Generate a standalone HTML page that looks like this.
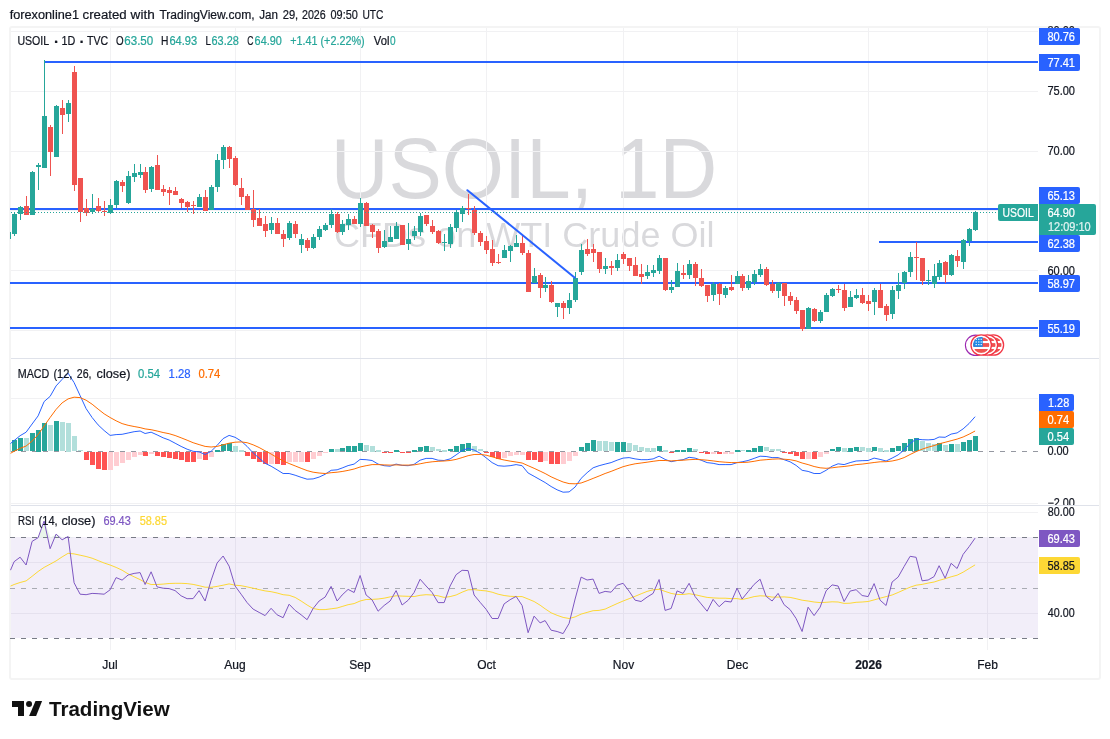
<!DOCTYPE html>
<html lang="en"><head><meta charset="utf-8"><title>USOIL 1D chart</title>
<style>html,body{margin:0;padding:0;background:#fff;}svg{display:block;will-change:transform;}text{font-family:"Liberation Sans",sans-serif;}</style>
</head><body>
<svg width="1110" height="739" viewBox="0 0 1110 739">
<rect x="0" y="0" width="1110" height="739" fill="#ffffff"/>
<text x="9.7" y="19" font-size="12.5" fill="#131722" textLength="69.3" lengthAdjust="spacingAndGlyphs" stroke="#131722" stroke-width="0.22">forexonline1</text>
<text x="82.6" y="19" font-size="12.5" fill="#131722" textLength="44.1" lengthAdjust="spacingAndGlyphs" stroke="#131722" stroke-width="0.22">created</text>
<text x="130.6" y="19" font-size="12.5" fill="#131722" textLength="24.1" lengthAdjust="spacingAndGlyphs" stroke="#131722" stroke-width="0.22">with</text>
<text x="159.4" y="19" font-size="12.5" fill="#131722" textLength="95.2" lengthAdjust="spacingAndGlyphs" stroke="#131722" stroke-width="0.22">TradingView.com,</text>
<text x="259.3" y="19" font-size="12.5" fill="#131722" textLength="18.7" lengthAdjust="spacingAndGlyphs" stroke="#131722" stroke-width="0.22">Jan</text>
<text x="282.7" y="19" font-size="12.5" fill="#131722" textLength="15.5" lengthAdjust="spacingAndGlyphs" stroke="#131722" stroke-width="0.22">29,</text>
<text x="302.0" y="19" font-size="12.5" fill="#131722" textLength="23.7" lengthAdjust="spacingAndGlyphs" stroke="#131722" stroke-width="0.22">2026</text>
<text x="330.5" y="19" font-size="12.5" fill="#131722" textLength="27.3" lengthAdjust="spacingAndGlyphs" stroke="#131722" stroke-width="0.22">09:50</text>
<text x="362.4" y="19" font-size="12.5" fill="#131722" textLength="21.0" lengthAdjust="spacingAndGlyphs" stroke="#131722" stroke-width="0.22">UTC</text>
<defs><clipPath id="mainclip"><rect x="10" y="28" width="1028" height="330"/></clipPath>
<clipPath id="macdclip"><rect x="10" y="359" width="1028" height="146"/></clipPath>
<clipPath id="rsiclip"><rect x="10" y="506" width="1028" height="144"/></clipPath>
<clipPath id="flagclip"><circle cx="0" cy="0" r="8.1"/></clipPath>
<clipPath id="sc1"><rect x="1038" y="359" width="62" height="146"/></clipPath></defs>
<g fill="#50535e" fill-opacity="0.22">
<text x="330.85" y="197.6" font-size="85" fill="#50535e" textLength="386.4" lengthAdjust="spacingAndGlyphs">USOIL, 1D</text>
<text x="334.0" y="246.7" font-size="34.5" fill="#50535e" textLength="380.6" lengthAdjust="spacingAndGlyphs">CFDs on WTI Crude Oil</text>
</g>
<g fill="#f1f1f3" shape-rendering="crispEdges">
<rect x="110" y="28" width="1" height="622"/>
<rect x="235" y="28" width="1" height="622"/>
<rect x="360" y="28" width="1" height="622"/>
<rect x="486" y="28" width="1" height="622"/>
<rect x="623" y="28" width="1" height="622"/>
<rect x="737" y="28" width="1" height="622"/>
<rect x="868" y="28" width="1" height="622"/>
<rect x="987" y="28" width="1" height="622"/>
<rect x="11" y="31" width="1027" height="1"/>
<rect x="11" y="91" width="1027" height="1"/>
<rect x="11" y="151" width="1027" height="1"/>
<rect x="11" y="210" width="1027" height="1"/>
<rect x="11" y="270" width="1027" height="1"/>
<rect x="11" y="330" width="1027" height="1"/>
<rect x="11" y="398" width="1027" height="1"/>
<rect x="11" y="503" width="1027" height="1"/>
<rect x="11" y="512" width="1027" height="1"/>
<rect x="11" y="562" width="1027" height="1"/>
<rect x="11" y="613" width="1027" height="1"/>
</g>
<rect x="11" y="537" width="1027" height="101" fill="#7e57c2" fill-opacity="0.1" shape-rendering="crispEdges"/>
<g fill="#dfe2ea" shape-rendering="crispEdges"><rect x="11" y="358" width="1088" height="1"/><rect x="11" y="505" width="1088" height="1"/></g>
<rect x="10" y="27" width="1090" height="652" rx="2" fill="none" stroke="#f4f4f4" stroke-width="2"/>
<g clip-path="url(#mainclip)">
<g fill="#2962ff" shape-rendering="crispEdges">
<rect x="44" y="61" width="994" height="2"/>
<rect x="10" y="208" width="1028" height="2"/>
<rect x="879" y="241" width="159" height="2"/>
<rect x="10" y="282" width="1028" height="2"/>
<rect x="10" y="327" width="1028" height="2"/>
</g>
<g fill="#26a69a" shape-rendering="crispEdges"><rect x="10" y="232" width="1" height="7"/><rect x="14" y="213" width="1" height="23"/><rect x="12" y="214" width="5" height="20"/><rect x="20" y="206" width="1" height="14"/><rect x="18" y="207" width="5" height="7"/><rect x="32" y="171" width="1" height="44"/><rect x="30" y="172" width="5" height="43"/><rect x="38" y="163" width="1" height="27"/><rect x="36" y="165" width="5" height="2"/><rect x="44" y="60" width="1" height="108"/><rect x="42" y="116" width="5" height="52"/><rect x="56" y="105" width="1" height="52"/><rect x="54" y="106" width="5" height="51"/><rect x="68" y="100" width="1" height="22"/><rect x="66" y="103" width="5" height="11"/><rect x="92" y="194" width="1" height="20"/><rect x="90" y="209" width="5" height="3"/><rect x="110" y="199" width="1" height="15"/><rect x="108" y="205" width="5" height="8"/><rect x="116" y="180" width="1" height="28"/><rect x="114" y="181" width="5" height="24"/><rect x="128" y="171" width="1" height="33"/><rect x="126" y="176" width="5" height="27"/><rect x="134" y="164" width="1" height="18"/><rect x="132" y="173" width="5" height="4"/><rect x="140" y="164" width="1" height="14"/><rect x="138" y="172" width="5" height="3"/><rect x="151" y="166" width="1" height="26"/><rect x="149" y="167" width="5" height="22"/><rect x="199" y="194" width="1" height="13"/><rect x="197" y="197" width="5" height="10"/><rect x="211" y="185" width="1" height="25"/><rect x="209" y="187" width="5" height="23"/><rect x="217" y="154" width="1" height="38"/><rect x="215" y="160" width="5" height="27"/><rect x="223" y="145" width="1" height="24"/><rect x="221" y="147" width="5" height="13"/><rect x="271" y="217" width="1" height="17"/><rect x="269" y="223" width="5" height="7"/><rect x="289" y="221" width="1" height="19"/><rect x="287" y="223" width="5" height="15"/><rect x="301" y="234" width="1" height="19"/><rect x="299" y="239" width="5" height="6"/><rect x="313" y="234" width="1" height="15"/><rect x="311" y="237" width="5" height="11"/><rect x="319" y="226" width="1" height="14"/><rect x="317" y="229" width="5" height="8"/><rect x="325" y="223" width="1" height="8"/><rect x="323" y="225" width="5" height="5"/><rect x="331" y="209" width="1" height="19"/><rect x="329" y="214" width="5" height="11"/><rect x="342" y="220" width="1" height="15"/><rect x="340" y="224" width="5" height="8"/><rect x="348" y="214" width="1" height="16"/><rect x="346" y="219" width="5" height="6"/><rect x="360" y="198" width="1" height="29"/><rect x="358" y="203" width="5" height="21"/><rect x="384" y="230" width="1" height="18"/><rect x="382" y="241" width="5" height="6"/><rect x="390" y="226" width="1" height="16"/><rect x="388" y="237" width="5" height="5"/><rect x="396" y="222" width="1" height="17"/><rect x="394" y="226" width="5" height="13"/><rect x="408" y="223" width="1" height="27"/><rect x="406" y="239" width="5" height="5"/><rect x="414" y="226" width="1" height="14"/><rect x="412" y="231" width="5" height="5"/><rect x="420" y="213" width="1" height="23"/><rect x="418" y="216" width="5" height="16"/><rect x="444" y="234" width="1" height="17"/><rect x="442" y="242" width="5" height="1"/><rect x="450" y="224" width="1" height="24"/><rect x="448" y="227" width="5" height="17"/><rect x="456" y="210" width="1" height="22"/><rect x="454" y="212" width="5" height="16"/><rect x="462" y="206" width="1" height="16"/><rect x="460" y="208" width="5" height="6"/><rect x="504" y="245" width="1" height="13"/><rect x="502" y="250" width="5" height="8"/><rect x="510" y="245" width="1" height="17"/><rect x="508" y="246" width="5" height="5"/><rect x="516" y="235" width="1" height="12"/><rect x="514" y="243" width="5" height="4"/><rect x="534" y="268" width="1" height="15"/><rect x="532" y="276" width="5" height="7"/><rect x="545" y="277" width="1" height="15"/><rect x="543" y="285" width="5" height="3"/><rect x="557" y="303" width="1" height="14"/><rect x="555" y="303" width="5" height="4"/><rect x="569" y="293" width="1" height="21"/><rect x="567" y="300" width="5" height="8"/><rect x="575" y="272" width="1" height="30"/><rect x="573" y="278" width="5" height="22"/><rect x="581" y="244" width="1" height="31"/><rect x="579" y="250" width="5" height="22"/><rect x="605" y="258" width="1" height="16"/><rect x="603" y="266" width="5" height="3"/><rect x="617" y="254" width="1" height="17"/><rect x="615" y="260" width="5" height="8"/><rect x="647" y="265" width="1" height="14"/><rect x="645" y="272" width="5" height="4"/><rect x="653" y="265" width="1" height="12"/><rect x="651" y="270" width="5" height="3"/><rect x="659" y="255" width="1" height="19"/><rect x="657" y="258" width="5" height="13"/><rect x="671" y="280" width="1" height="13"/><rect x="669" y="287" width="5" height="3"/><rect x="677" y="263" width="1" height="24"/><rect x="675" y="271" width="5" height="16"/><rect x="689" y="260" width="1" height="19"/><rect x="687" y="264" width="5" height="11"/><rect x="713" y="282" width="1" height="19"/><rect x="711" y="284" width="5" height="11"/><rect x="725" y="286" width="1" height="12"/><rect x="723" y="288" width="5" height="7"/><rect x="737" y="271" width="1" height="13"/><rect x="735" y="276" width="5" height="8"/><rect x="748" y="275" width="1" height="15"/><rect x="746" y="281" width="5" height="7"/><rect x="754" y="270" width="1" height="15"/><rect x="752" y="274" width="5" height="8"/><rect x="760" y="264" width="1" height="13"/><rect x="758" y="269" width="5" height="6"/><rect x="778" y="282" width="1" height="16"/><rect x="776" y="283" width="5" height="8"/><rect x="808" y="307" width="1" height="22"/><rect x="806" y="308" width="5" height="21"/><rect x="820" y="310" width="1" height="13"/><rect x="818" y="312" width="5" height="9"/><rect x="826" y="293" width="1" height="19"/><rect x="824" y="295" width="5" height="17"/><rect x="832" y="288" width="1" height="9"/><rect x="830" y="289" width="5" height="7"/><rect x="850" y="291" width="1" height="16"/><rect x="848" y="297" width="5" height="10"/><rect x="856" y="289" width="1" height="10"/><rect x="854" y="295" width="5" height="3"/><rect x="874" y="288" width="1" height="27"/><rect x="872" y="290" width="5" height="12"/><rect x="892" y="286" width="1" height="33"/><rect x="890" y="290" width="5" height="24"/><rect x="898" y="273" width="1" height="26"/><rect x="896" y="285" width="5" height="6"/><rect x="904" y="271" width="1" height="18"/><rect x="902" y="272" width="5" height="11"/><rect x="910" y="252" width="1" height="25"/><rect x="908" y="257" width="5" height="15"/><rect x="928" y="270" width="1" height="15"/><rect x="926" y="280" width="5" height="1"/><rect x="934" y="264" width="1" height="24"/><rect x="932" y="276" width="5" height="8"/><rect x="939" y="260" width="1" height="20"/><rect x="937" y="263" width="5" height="14"/><rect x="951" y="254" width="1" height="22"/><rect x="949" y="255" width="5" height="20"/><rect x="963" y="239" width="1" height="30"/><rect x="961" y="240" width="5" height="22"/><rect x="969" y="228" width="1" height="18"/><rect x="967" y="229" width="5" height="12"/><rect x="975" y="211" width="1" height="20"/><rect x="973" y="212" width="5" height="18"/></g>
<g fill="#ef5350" shape-rendering="crispEdges"><rect x="26" y="196" width="1" height="19"/><rect x="24" y="206" width="5" height="9"/><rect x="50" y="125" width="1" height="51"/><rect x="48" y="127" width="5" height="25"/><rect x="62" y="100" width="1" height="34"/><rect x="60" y="108" width="5" height="7"/><rect x="74" y="66" width="1" height="125"/><rect x="72" y="72" width="5" height="113"/><rect x="80" y="178" width="1" height="44"/><rect x="78" y="178" width="5" height="34"/><rect x="86" y="199" width="1" height="17"/><rect x="84" y="208" width="5" height="5"/><rect x="98" y="198" width="1" height="15"/><rect x="96" y="206" width="5" height="5"/><rect x="104" y="201" width="1" height="15"/><rect x="102" y="211" width="5" height="1"/><rect x="122" y="180" width="1" height="12"/><rect x="120" y="182" width="5" height="4"/><rect x="145" y="167" width="1" height="26"/><rect x="143" y="172" width="5" height="18"/><rect x="157" y="155" width="1" height="35"/><rect x="155" y="165" width="5" height="25"/><rect x="163" y="185" width="1" height="11"/><rect x="161" y="189" width="5" height="3"/><rect x="169" y="187" width="1" height="18"/><rect x="167" y="190" width="5" height="3"/><rect x="175" y="187" width="1" height="8"/><rect x="173" y="191" width="5" height="4"/><rect x="181" y="198" width="1" height="10"/><rect x="179" y="199" width="5" height="4"/><rect x="187" y="201" width="1" height="11"/><rect x="185" y="202" width="5" height="5"/><rect x="193" y="201" width="1" height="13"/><rect x="191" y="205" width="5" height="1"/><rect x="205" y="190" width="1" height="21"/><rect x="203" y="197" width="5" height="14"/><rect x="229" y="146" width="1" height="22"/><rect x="227" y="147" width="5" height="12"/><rect x="235" y="156" width="1" height="30"/><rect x="233" y="158" width="5" height="27"/><rect x="241" y="178" width="1" height="27"/><rect x="239" y="188" width="5" height="9"/><rect x="247" y="194" width="1" height="16"/><rect x="245" y="196" width="5" height="14"/><rect x="253" y="190" width="1" height="37"/><rect x="251" y="209" width="5" height="11"/><rect x="259" y="209" width="1" height="17"/><rect x="257" y="218" width="5" height="8"/><rect x="265" y="216" width="1" height="21"/><rect x="263" y="224" width="5" height="7"/><rect x="277" y="218" width="1" height="16"/><rect x="275" y="223" width="5" height="11"/><rect x="283" y="230" width="1" height="17"/><rect x="281" y="234" width="5" height="5"/><rect x="295" y="221" width="1" height="17"/><rect x="293" y="224" width="5" height="10"/><rect x="307" y="238" width="1" height="13"/><rect x="305" y="240" width="5" height="8"/><rect x="337" y="212" width="1" height="21"/><rect x="335" y="214" width="5" height="18"/><rect x="354" y="216" width="1" height="8"/><rect x="352" y="219" width="5" height="5"/><rect x="366" y="202" width="1" height="24"/><rect x="364" y="203" width="5" height="23"/><rect x="372" y="224" width="1" height="14"/><rect x="370" y="225" width="5" height="7"/><rect x="378" y="229" width="1" height="24"/><rect x="376" y="231" width="5" height="17"/><rect x="402" y="225" width="1" height="20"/><rect x="400" y="225" width="5" height="20"/><rect x="426" y="215" width="1" height="11"/><rect x="424" y="215" width="5" height="9"/><rect x="432" y="220" width="1" height="14"/><rect x="430" y="226" width="5" height="6"/><rect x="438" y="230" width="1" height="14"/><rect x="436" y="231" width="5" height="12"/><rect x="468" y="194" width="1" height="21"/><rect x="466" y="208" width="5" height="1"/><rect x="474" y="206" width="1" height="29"/><rect x="472" y="210" width="5" height="23"/><rect x="480" y="231" width="1" height="15"/><rect x="478" y="233" width="5" height="9"/><rect x="486" y="236" width="1" height="18"/><rect x="484" y="241" width="5" height="9"/><rect x="492" y="240" width="1" height="26"/><rect x="490" y="249" width="5" height="14"/><rect x="498" y="254" width="1" height="10"/><rect x="496" y="262" width="5" height="1"/><rect x="522" y="236" width="1" height="19"/><rect x="520" y="243" width="5" height="10"/><rect x="528" y="250" width="1" height="42"/><rect x="526" y="253" width="5" height="39"/><rect x="540" y="273" width="1" height="25"/><rect x="538" y="275" width="5" height="13"/><rect x="551" y="281" width="1" height="22"/><rect x="549" y="285" width="5" height="17"/><rect x="563" y="301" width="1" height="18"/><rect x="561" y="303" width="5" height="5"/><rect x="587" y="239" width="1" height="17"/><rect x="585" y="249" width="5" height="5"/><rect x="593" y="244" width="1" height="18"/><rect x="591" y="249" width="5" height="4"/><rect x="599" y="252" width="1" height="21"/><rect x="597" y="252" width="5" height="17"/><rect x="611" y="261" width="1" height="14"/><rect x="609" y="266" width="5" height="2"/><rect x="623" y="252" width="1" height="12"/><rect x="621" y="254" width="5" height="5"/><rect x="629" y="258" width="1" height="13"/><rect x="627" y="258" width="5" height="8"/><rect x="635" y="257" width="1" height="19"/><rect x="633" y="265" width="5" height="11"/><rect x="641" y="264" width="1" height="20"/><rect x="639" y="274" width="5" height="3"/><rect x="665" y="258" width="1" height="33"/><rect x="663" y="258" width="5" height="32"/><rect x="683" y="265" width="1" height="14"/><rect x="681" y="273" width="5" height="2"/><rect x="695" y="262" width="1" height="24"/><rect x="693" y="264" width="5" height="14"/><rect x="701" y="269" width="1" height="18"/><rect x="699" y="278" width="5" height="8"/><rect x="707" y="285" width="1" height="17"/><rect x="705" y="285" width="5" height="11"/><rect x="719" y="283" width="1" height="22"/><rect x="717" y="284" width="5" height="10"/><rect x="731" y="275" width="1" height="16"/><rect x="729" y="287" width="5" height="3"/><rect x="742" y="274" width="1" height="17"/><rect x="740" y="276" width="5" height="12"/><rect x="766" y="267" width="1" height="19"/><rect x="764" y="269" width="5" height="16"/><rect x="772" y="280" width="1" height="13"/><rect x="770" y="284" width="5" height="7"/><rect x="784" y="283" width="1" height="23"/><rect x="782" y="283" width="5" height="13"/><rect x="790" y="292" width="1" height="13"/><rect x="788" y="296" width="5" height="5"/><rect x="796" y="297" width="1" height="17"/><rect x="794" y="300" width="5" height="11"/><rect x="802" y="310" width="1" height="21"/><rect x="800" y="310" width="5" height="19"/><rect x="814" y="308" width="1" height="14"/><rect x="812" y="309" width="5" height="12"/><rect x="838" y="285" width="1" height="8"/><rect x="836" y="289" width="5" height="1"/><rect x="844" y="284" width="1" height="27"/><rect x="842" y="290" width="5" height="18"/><rect x="862" y="288" width="1" height="16"/><rect x="860" y="295" width="5" height="8"/><rect x="868" y="295" width="1" height="16"/><rect x="866" y="301" width="5" height="3"/><rect x="880" y="284" width="1" height="24"/><rect x="878" y="290" width="5" height="18"/><rect x="886" y="304" width="1" height="17"/><rect x="884" y="306" width="5" height="9"/><rect x="916" y="242" width="1" height="38"/><rect x="914" y="257" width="5" height="1"/><rect x="922" y="258" width="1" height="27"/><rect x="920" y="258" width="5" height="23"/><rect x="945" y="261" width="1" height="22"/><rect x="943" y="262" width="5" height="13"/><rect x="957" y="250" width="1" height="17"/><rect x="955" y="256" width="5" height="5"/></g>
<line x1="467.4" y1="190.2" x2="574.8" y2="277.7" stroke="#2962ff" stroke-width="2" stroke-linecap="round"/>
<line x1="11" y1="212.5" x2="998" y2="212.5" stroke="#26a69a" stroke-width="1" stroke-dasharray="1 2" shape-rendering="crispEdges"/>
</g>
<circle cx="975.6" cy="345.3" r="10.2" fill="#fff" stroke="#9c27b0" stroke-width="1.1"/>
<g transform="translate(993.4 345)"><circle r="10.2" fill="#fff" stroke="#f23645" stroke-width="1.3"/><g clip-path="url(#flagclip)"><rect x="-9" y="-9" width="18" height="18" fill="#fff"/><rect x="-9" y="-7.4" width="18" height="3.4" fill="#ef5350"/><rect x="-9" y="-1.9" width="18" height="3.8" fill="#ef5350"/><rect x="-9" y="4" width="18" height="3.9" fill="#ef5350"/><rect x="-9" y="-9" width="10.5" height="10.9" fill="#1e88e5"/><g fill="#fff"><rect x="-5.6" y="-6.3" width="1.2" height="1.2"/><rect x="-3" y="-6.3" width="1.2" height="1.2"/><rect x="-0.6" y="-6.3" width="1.2" height="1.2"/><rect x="-5.6" y="-3.6" width="1.2" height="1.2"/><rect x="-3" y="-3.6" width="1.2" height="1.2"/><rect x="-0.6" y="-3.6" width="1.2" height="1.2"/><rect x="-5.6" y="-1" width="1.2" height="1.2"/><rect x="-3" y="-1" width="1.2" height="1.2"/><rect x="-0.6" y="-1" width="1.2" height="1.2"/></g></g></g>
<g transform="translate(987.4 345)"><circle r="10.2" fill="#fff" stroke="#f23645" stroke-width="1.3"/><g clip-path="url(#flagclip)"><rect x="-9" y="-9" width="18" height="18" fill="#fff"/><rect x="-9" y="-7.4" width="18" height="3.4" fill="#ef5350"/><rect x="-9" y="-1.9" width="18" height="3.8" fill="#ef5350"/><rect x="-9" y="4" width="18" height="3.9" fill="#ef5350"/><rect x="-9" y="-9" width="10.5" height="10.9" fill="#1e88e5"/><g fill="#fff"><rect x="-5.6" y="-6.3" width="1.2" height="1.2"/><rect x="-3" y="-6.3" width="1.2" height="1.2"/><rect x="-0.6" y="-6.3" width="1.2" height="1.2"/><rect x="-5.6" y="-3.6" width="1.2" height="1.2"/><rect x="-3" y="-3.6" width="1.2" height="1.2"/><rect x="-0.6" y="-3.6" width="1.2" height="1.2"/><rect x="-5.6" y="-1" width="1.2" height="1.2"/><rect x="-3" y="-1" width="1.2" height="1.2"/><rect x="-0.6" y="-1" width="1.2" height="1.2"/></g></g></g>
<g transform="translate(981.2 345)"><circle r="10.2" fill="#fff" stroke="#f23645" stroke-width="1.3"/><g clip-path="url(#flagclip)"><rect x="-9" y="-9" width="18" height="18" fill="#fff"/><rect x="-9" y="-7.4" width="18" height="3.4" fill="#ef5350"/><rect x="-9" y="-1.9" width="18" height="3.8" fill="#ef5350"/><rect x="-9" y="4" width="18" height="3.9" fill="#ef5350"/><rect x="-9" y="-9" width="10.5" height="10.9" fill="#1e88e5"/><g fill="#fff"><rect x="-5.6" y="-6.3" width="1.2" height="1.2"/><rect x="-3" y="-6.3" width="1.2" height="1.2"/><rect x="-0.6" y="-6.3" width="1.2" height="1.2"/><rect x="-5.6" y="-3.6" width="1.2" height="1.2"/><rect x="-3" y="-3.6" width="1.2" height="1.2"/><rect x="-0.6" y="-3.6" width="1.2" height="1.2"/><rect x="-5.6" y="-1" width="1.2" height="1.2"/><rect x="-3" y="-1" width="1.2" height="1.2"/><rect x="-0.6" y="-1" width="1.2" height="1.2"/></g></g></g>
<text x="17.4" y="45.4" font-size="12" fill="#131722" textLength="31.8" lengthAdjust="spacingAndGlyphs" stroke="#131722" stroke-width="0.22">USOIL</text>
<text x="61.6" y="45.4" font-size="12" fill="#131722" textLength="13.8" lengthAdjust="spacingAndGlyphs" stroke="#131722" stroke-width="0.22">1D</text>
<text x="87.1" y="45.4" font-size="12" fill="#131722" textLength="21.1" lengthAdjust="spacingAndGlyphs" stroke="#131722" stroke-width="0.22">TVC</text>
<text x="54" y="46.6" font-size="15" fill="#131722" font-weight="bold" stroke="#131722" stroke-width="0.22">·</text>
<text x="79.5" y="46.6" font-size="15" fill="#131722" font-weight="bold" stroke="#131722" stroke-width="0.22">·</text>
<text x="116" y="45.4" font-size="12" fill="#131722" textLength="7.6" lengthAdjust="spacingAndGlyphs" stroke="#131722" stroke-width="0.22">O</text>
<text x="124.3" y="45.4" font-size="12" fill="#26a69a" textLength="28.9" lengthAdjust="spacingAndGlyphs" stroke="#26a69a" stroke-width="0.22">63.50</text>
<text x="161" y="45.4" font-size="12" fill="#131722" textLength="7.4" lengthAdjust="spacingAndGlyphs" stroke="#131722" stroke-width="0.22">H</text>
<text x="169.4" y="45.4" font-size="12" fill="#26a69a" textLength="27.7" lengthAdjust="spacingAndGlyphs" stroke="#26a69a" stroke-width="0.22">64.93</text>
<text x="205.5" y="45.4" font-size="12" fill="#131722" textLength="5.4" lengthAdjust="spacingAndGlyphs" stroke="#131722" stroke-width="0.22">L</text>
<text x="211.5" y="45.4" font-size="12" fill="#26a69a" textLength="27.3" lengthAdjust="spacingAndGlyphs" stroke="#26a69a" stroke-width="0.22">63.28</text>
<text x="247.2" y="45.4" font-size="12" fill="#131722" textLength="6.2" lengthAdjust="spacingAndGlyphs" stroke="#131722" stroke-width="0.22">C</text>
<text x="254.6" y="45.4" font-size="12" fill="#26a69a" textLength="27.2" lengthAdjust="spacingAndGlyphs" stroke="#26a69a" stroke-width="0.22">64.90</text>
<text x="290.2" y="45.4" font-size="12" fill="#26a69a" textLength="74.4" lengthAdjust="spacingAndGlyphs" stroke="#26a69a" stroke-width="0.22">+1.41 (+2.22%)</text>
<text x="373.8" y="45.4" font-size="12" fill="#131722" textLength="15.6" lengthAdjust="spacingAndGlyphs" stroke="#131722" stroke-width="0.22">Vol</text>
<text x="390" y="45.4" font-size="12" fill="#26a69a" textLength="5.6" lengthAdjust="spacingAndGlyphs" stroke="#26a69a" stroke-width="0.22">0</text>
<g clip-path="url(#macdclip)">
<line x1="10" y1="451.5" x2="1038" y2="451.5" stroke="#9598a1" stroke-width="1" stroke-dasharray="5 6" shape-rendering="crispEdges"/>
<g fill="#26a69a" shape-rendering="crispEdges"><rect x="12" y="440" width="5" height="11"/><rect x="18" y="438" width="5" height="13"/><rect x="30" y="433" width="5" height="18"/><rect x="36" y="430" width="5" height="22"/><rect x="42" y="423" width="5" height="28"/><rect x="54" y="421" width="5" height="30"/><rect x="215" y="450" width="5" height="2"/><rect x="221" y="444" width="5" height="7"/><rect x="227" y="443" width="5" height="8"/><rect x="329" y="449" width="5" height="3"/><rect x="340" y="448" width="5" height="3"/><rect x="346" y="446" width="5" height="6"/><rect x="352" y="446" width="5" height="6"/><rect x="358" y="443" width="5" height="8"/><rect x="394" y="450" width="5" height="2"/><rect x="412" y="450" width="5" height="2"/><rect x="418" y="447" width="5" height="4"/><rect x="424" y="446" width="5" height="6"/><rect x="448" y="449" width="5" height="2"/><rect x="454" y="446" width="5" height="6"/><rect x="460" y="444" width="5" height="8"/><rect x="466" y="443" width="5" height="8"/><rect x="579" y="447" width="5" height="4"/><rect x="585" y="443" width="5" height="8"/><rect x="591" y="440" width="5" height="11"/><rect x="615" y="442" width="5" height="10"/><rect x="621" y="442" width="5" height="10"/><rect x="657" y="446" width="5" height="5"/><rect x="675" y="450" width="5" height="2"/><rect x="681" y="450" width="5" height="2"/><rect x="687" y="448" width="5" height="4"/><rect x="735" y="450" width="5" height="2"/><rect x="746" y="450" width="5" height="2"/><rect x="752" y="448" width="5" height="4"/><rect x="758" y="446" width="5" height="6"/><rect x="830" y="449" width="5" height="2"/><rect x="836" y="447" width="5" height="4"/><rect x="848" y="448" width="5" height="4"/><rect x="854" y="447" width="5" height="4"/><rect x="872" y="447" width="5" height="4"/><rect x="890" y="448" width="5" height="4"/><rect x="896" y="446" width="5" height="5"/><rect x="902" y="443" width="5" height="8"/><rect x="908" y="439" width="5" height="12"/><rect x="914" y="438" width="5" height="13"/><rect x="937" y="443" width="5" height="8"/><rect x="949" y="444" width="5" height="8"/><rect x="961" y="442" width="5" height="9"/><rect x="967" y="440" width="5" height="11"/><rect x="973" y="436" width="5" height="15"/></g>
<g fill="#b2dfdb" shape-rendering="crispEdges"><rect x="10" y="443" width="1" height="9"/><rect x="24" y="438" width="5" height="13"/><rect x="48" y="425" width="5" height="26"/><rect x="60" y="422" width="5" height="29"/><rect x="66" y="423" width="5" height="29"/><rect x="72" y="436" width="5" height="15"/><rect x="78" y="450" width="5" height="1"/><rect x="233" y="446" width="5" height="6"/><rect x="239" y="450" width="5" height="2"/><rect x="335" y="449" width="5" height="3"/><rect x="364" y="445" width="5" height="6"/><rect x="370" y="446" width="5" height="6"/><rect x="376" y="450" width="5" height="2"/><rect x="430" y="447" width="5" height="4"/><rect x="436" y="449" width="5" height="2"/><rect x="442" y="450" width="5" height="2"/><rect x="472" y="446" width="5" height="6"/><rect x="478" y="449" width="5" height="2"/><rect x="597" y="441" width="5" height="10"/><rect x="603" y="441" width="5" height="10"/><rect x="609" y="442" width="5" height="9"/><rect x="627" y="443" width="5" height="8"/><rect x="633" y="445" width="5" height="6"/><rect x="639" y="447" width="5" height="4"/><rect x="645" y="448" width="5" height="4"/><rect x="651" y="448" width="5" height="4"/><rect x="663" y="450" width="5" height="2"/><rect x="693" y="449" width="5" height="2"/><rect x="740" y="450" width="5" height="1"/><rect x="764" y="447" width="5" height="4"/><rect x="770" y="449" width="5" height="2"/><rect x="776" y="449" width="5" height="2"/><rect x="842" y="448" width="5" height="4"/><rect x="860" y="447" width="5" height="4"/><rect x="866" y="448" width="5" height="4"/><rect x="878" y="448" width="5" height="4"/><rect x="884" y="450" width="5" height="2"/><rect x="920" y="441" width="5" height="10"/><rect x="926" y="443" width="5" height="8"/><rect x="932" y="444" width="5" height="7"/><rect x="943" y="445" width="5" height="6"/><rect x="955" y="444" width="5" height="8"/></g>
<g fill="#ff5252" shape-rendering="crispEdges"><rect x="84" y="452" width="5" height="8"/><rect x="90" y="452" width="5" height="13"/><rect x="96" y="452" width="5" height="17"/><rect x="102" y="452" width="5" height="18"/><rect x="143" y="452" width="5" height="4"/><rect x="155" y="452" width="5" height="4"/><rect x="161" y="452" width="5" height="5"/><rect x="167" y="452" width="5" height="6"/><rect x="173" y="452" width="5" height="7"/><rect x="179" y="452" width="5" height="8"/><rect x="185" y="452" width="5" height="10"/><rect x="191" y="452" width="5" height="10"/><rect x="203" y="452" width="5" height="8"/><rect x="245" y="452" width="5" height="4"/><rect x="251" y="452" width="5" height="7"/><rect x="257" y="452" width="5" height="10"/><rect x="263" y="452" width="5" height="12"/><rect x="275" y="452" width="5" height="12"/><rect x="281" y="452" width="5" height="13"/><rect x="305" y="452" width="5" height="10"/><rect x="382" y="452" width="5" height="1"/><rect x="388" y="452" width="5" height="1"/><rect x="400" y="452" width="5" height="1"/><rect x="406" y="452" width="5" height="1"/><rect x="484" y="452" width="5" height="1"/><rect x="490" y="452" width="5" height="5"/><rect x="496" y="452" width="5" height="7"/><rect x="526" y="452" width="5" height="8"/><rect x="532" y="452" width="5" height="8"/><rect x="538" y="452" width="5" height="10"/><rect x="549" y="452" width="5" height="12"/><rect x="555" y="452" width="5" height="12"/><rect x="669" y="452" width="5" height="1"/><rect x="699" y="452" width="5" height="1"/><rect x="705" y="452" width="5" height="2"/><rect x="717" y="452" width="5" height="2"/><rect x="782" y="452" width="5" height="1"/><rect x="788" y="452" width="5" height="2"/><rect x="794" y="452" width="5" height="4"/><rect x="800" y="452" width="5" height="7"/><rect x="812" y="452" width="5" height="7"/></g>
<g fill="#ffcdd2" shape-rendering="crispEdges"><rect x="108" y="452" width="5" height="18"/><rect x="114" y="452" width="5" height="14"/><rect x="120" y="452" width="5" height="11"/><rect x="126" y="452" width="5" height="8"/><rect x="132" y="452" width="5" height="5"/><rect x="138" y="452" width="5" height="3"/><rect x="149" y="452" width="5" height="2"/><rect x="197" y="452" width="5" height="7"/><rect x="209" y="452" width="5" height="5"/><rect x="269" y="452" width="5" height="12"/><rect x="287" y="452" width="5" height="10"/><rect x="293" y="452" width="5" height="10"/><rect x="299" y="452" width="5" height="10"/><rect x="311" y="452" width="5" height="7"/><rect x="317" y="452" width="5" height="4"/><rect x="323" y="452" width="5" height="1"/><rect x="502" y="452" width="5" height="6"/><rect x="508" y="452" width="5" height="4"/><rect x="514" y="452" width="5" height="3"/><rect x="520" y="452" width="5" height="3"/><rect x="543" y="452" width="5" height="9"/><rect x="561" y="452" width="5" height="12"/><rect x="567" y="452" width="5" height="9"/><rect x="573" y="452" width="5" height="4"/><rect x="711" y="452" width="5" height="2"/><rect x="723" y="452" width="5" height="2"/><rect x="729" y="452" width="5" height="2"/><rect x="806" y="452" width="5" height="7"/><rect x="818" y="452" width="5" height="5"/><rect x="824" y="452" width="5" height="2"/></g>
<polyline fill="none" stroke="#2962ff" stroke-width="1" stroke-linejoin="round" points="10.5,443.5 14.1,440.6 20.1,435.7 26.1,432.2 32.1,424.0 38.1,415.9 44.1,401.6 50.1,396.4 56.1,385.9 62.1,379.4 68.1,373.2 74.1,382.6 80.1,395.6 86.1,408.6 92.1,417.5 98.1,424.9 104.1,430.5 110.1,435.4 116.1,434.6 122.1,434.3 128.1,433.0 134.1,431.7 140.1,431.0 145.1,433.5 151.1,432.2 157.1,434.9 163.1,437.8 169.1,440.0 175.1,443.2 181.1,446.4 187.1,449.2 193.1,451.3 199.1,451.9 205.1,454.5 211.1,451.3 217.1,445.4 223.1,438.6 229.1,435.4 235.1,437.3 241.1,441.0 247.1,446.4 253.1,452.9 259.1,458.1 265.1,463.3 271.1,466.2 277.1,469.8 283.1,473.5 289.1,473.5 295.1,475.2 301.1,477.3 307.1,479.2 313.1,478.9 319.1,477.1 325.1,474.3 331.1,470.3 337.1,469.8 342.1,468.0 348.1,465.6 354.1,464.1 360.1,459.4 366.1,459.7 372.1,460.5 378.1,464.1 384.1,465.7 390.1,466.2 396.1,464.1 402.1,465.4 408.1,465.7 414.1,464.3 420.1,460.2 426.1,458.4 432.1,458.4 438.1,460.2 444.1,460.5 450.1,458.9 456.1,454.9 462.1,450.5 468.1,448.4 474.1,450.0 480.1,453.2 486.1,457.8 492.1,462.6 498.1,465.7 504.1,466.2 510.1,465.7 516.1,464.6 522.1,465.7 528.1,473.0 534.1,476.3 540.1,479.7 545.1,482.5 551.1,486.5 557.1,489.8 563.1,492.2 569.1,491.9 575.1,487.0 581.1,478.4 587.1,472.7 593.1,467.8 599.1,465.7 605.1,464.1 611.1,462.6 617.1,460.2 623.1,458.1 629.1,457.6 635.1,458.9 641.1,459.7 647.1,459.7 653.1,458.9 659.1,456.2 665.1,459.4 671.1,461.7 677.1,460.5 683.1,459.7 689.1,457.3 695.1,458.1 701.1,460.2 707.1,462.6 713.1,463.3 719.1,464.6 725.1,464.6 731.1,464.6 737.1,462.6 742.1,461.8 748.1,460.5 754.1,458.4 760.1,456.2 766.1,456.5 772.1,457.6 778.1,457.6 784.1,459.7 790.1,461.8 796.1,465.4 802.1,470.3 808.1,471.4 814.1,473.5 820.1,473.5 826.1,470.3 832.1,466.2 838.1,463.8 844.1,464.6 850.1,462.6 856.1,461.0 862.1,460.7 868.1,460.5 874.1,458.1 880.1,459.4 886.1,461.0 892.1,458.1 898.1,454.9 904.1,450.0 910.1,443.5 916.1,439.1 922.1,439.7 928.1,439.9 934.1,439.4 939.1,437.0 945.1,437.3 951.1,434.1 957.1,432.9 963.1,428.9 969.1,423.5 975.1,416.7"/>
<polyline fill="none" stroke="#ff6d00" stroke-width="1" stroke-linejoin="round" points="10.5,453.3 14.1,451.3 20.1,448.4 26.1,446.0 32.1,441.1 38.1,434.6 44.1,426.0 50.1,417.5 56.1,409.4 62.1,402.9 68.1,398.9 74.1,397.2 80.1,397.6 86.1,400.2 92.1,404.2 98.1,409.1 104.1,413.8 110.1,417.5 116.1,420.8 122.1,423.6 128.1,425.3 134.1,426.5 140.1,427.6 145.1,428.9 151.1,429.7 157.1,431.0 163.1,432.5 169.1,433.7 175.1,435.5 181.1,437.8 187.1,440.2 193.1,442.7 199.1,444.6 205.1,446.4 211.1,447.0 217.1,446.4 223.1,444.8 229.1,443.2 235.1,442.2 241.1,441.9 247.1,442.7 253.1,444.8 259.1,447.5 265.1,450.8 271.1,454.0 277.1,457.6 283.1,460.9 289.1,463.5 295.1,465.9 301.1,468.3 307.1,470.6 313.1,472.2 319.1,473.0 325.1,473.5 331.1,472.7 337.1,472.2 342.1,471.5 348.1,470.4 354.1,469.0 360.1,467.0 366.1,465.7 372.1,464.6 378.1,464.6 384.1,464.9 390.1,465.1 396.1,464.9 402.1,465.1 408.1,465.1 414.1,464.9 420.1,463.8 426.1,462.6 432.1,461.8 438.1,461.3 444.1,461.0 450.1,460.5 456.1,459.4 462.1,457.6 468.1,455.7 474.1,454.5 480.1,454.4 486.1,455.2 492.1,456.8 498.1,458.6 504.1,460.0 510.1,461.1 516.1,462.0 522.1,463.0 528.1,465.7 534.1,468.3 540.1,471.1 545.1,473.5 551.1,476.8 557.1,479.5 563.1,482.0 569.1,483.6 575.1,483.8 581.1,483.0 587.1,480.8 593.1,478.4 599.1,476.0 605.1,473.5 611.1,471.4 617.1,469.0 623.1,466.7 629.1,465.1 635.1,463.8 641.1,463.0 647.1,462.2 653.1,461.3 659.1,460.5 665.1,460.5 671.1,460.9 677.1,460.5 683.1,460.2 689.1,459.7 695.1,459.4 701.1,459.7 707.1,460.2 713.1,460.9 719.1,461.7 725.1,462.2 731.1,462.6 737.1,462.6 742.1,462.5 748.1,462.2 754.1,461.3 760.1,460.2 766.1,459.7 772.1,459.2 778.1,458.9 784.1,459.2 790.1,459.7 796.1,460.9 802.1,463.0 808.1,464.6 814.1,466.5 820.1,467.8 826.1,468.3 832.1,467.8 838.1,467.0 844.1,466.5 850.1,465.7 856.1,464.6 862.1,464.1 868.1,463.3 874.1,462.5 880.1,461.8 886.1,461.7 892.1,461.0 898.1,459.7 904.1,457.6 910.1,454.5 916.1,451.6 922.1,449.2 928.1,447.2 934.1,445.6 939.1,443.8 945.1,442.3 951.1,440.7 957.1,439.1 963.1,437.0 969.1,434.2 975.1,431.0"/>
</g>
<text x="17.7" y="378" font-size="12" fill="#131722" textLength="31.6" lengthAdjust="spacingAndGlyphs" stroke="#131722" stroke-width="0.22">MACD</text>
<text x="53.4" y="378" font-size="12" fill="#131722" textLength="19.0" lengthAdjust="spacingAndGlyphs" stroke="#131722" stroke-width="0.22">(12,</text>
<text x="76.8" y="378" font-size="12" fill="#131722" textLength="14.7" lengthAdjust="spacingAndGlyphs" stroke="#131722" stroke-width="0.22">26,</text>
<text x="96.6" y="378" font-size="12" fill="#131722" textLength="33.9" lengthAdjust="spacingAndGlyphs" stroke="#131722" stroke-width="0.22">close)</text>
<text x="138" y="378" font-size="12" fill="#26a69a" textLength="22" lengthAdjust="spacingAndGlyphs" stroke="#26a69a" stroke-width="0.22">0.54</text>
<text x="168.6" y="378" font-size="12" fill="#2962ff" textLength="22" lengthAdjust="spacingAndGlyphs" stroke="#2962ff" stroke-width="0.22">1.28</text>
<text x="198.4" y="378" font-size="12" fill="#ff6d00" textLength="22" lengthAdjust="spacingAndGlyphs" stroke="#ff6d00" stroke-width="0.22">0.74</text>
<g clip-path="url(#rsiclip)">
<g stroke-width="1" shape-rendering="crispEdges" stroke-dasharray="5 6">
<line x1="10" y1="537.5" x2="1038" y2="537.5" stroke="#787b86"/>
<line x1="10" y1="588.5" x2="1038" y2="588.5" stroke="#a9abb3"/>
<line x1="10" y1="638.5" x2="1038" y2="638.5" stroke="#787b86"/>
</g>
<polygon fill="#4caf50" fill-opacity="0.12" points="10.5,537.5 10.5,537.5 14.5,537.5 20.5,537.5 26.5,537.5 32.5,537.5 38.5,537.5 44.5,521.1 50.5,537.5 56.5,534.1 62.5,537.5 68.5,536.5 74.5,537.5 80.5,537.5 86.5,537.5 92.5,537.5 98.5,537.5 104.5,537.5 110.5,537.5 116.5,537.5 122.5,537.5 128.5,537.5 134.5,537.5 140.5,537.5 145.5,537.5 151.5,537.5 157.5,537.5 163.5,537.5 169.5,537.5 175.5,537.5 181.5,537.5 187.5,537.5 193.5,537.5 199.5,537.5 205.5,537.5 211.5,537.5 217.5,537.5 223.5,537.5 229.5,537.5 235.5,537.5 241.5,537.5 247.5,537.5 253.5,537.5 259.5,537.5 265.5,537.5 271.5,537.5 277.5,537.5 283.5,537.5 289.5,537.5 295.5,537.5 301.5,537.5 307.5,537.5 313.5,537.5 319.5,537.5 325.5,537.5 331.5,537.5 337.5,537.5 342.5,537.5 348.5,537.5 354.5,537.5 360.5,537.5 366.5,537.5 372.5,537.5 378.5,537.5 384.5,537.5 390.5,537.5 396.5,537.5 402.5,537.5 408.5,537.5 414.5,537.5 420.5,537.5 426.5,537.5 432.5,537.5 438.5,537.5 444.5,537.5 450.5,537.5 456.5,537.5 462.5,537.5 468.5,537.5 474.5,537.5 480.5,537.5 486.5,537.5 492.5,537.5 498.5,537.5 504.5,537.5 510.5,537.5 516.5,537.5 522.5,537.5 528.5,537.5 534.5,537.5 540.5,537.5 545.5,537.5 551.5,537.5 557.5,537.5 563.5,537.5 569.5,537.5 575.5,537.5 581.5,537.5 587.5,537.5 593.5,537.5 599.5,537.5 605.5,537.5 611.5,537.5 617.5,537.5 623.5,537.5 629.5,537.5 635.5,537.5 641.5,537.5 647.5,537.5 653.5,537.5 659.5,537.5 665.5,537.5 671.5,537.5 677.5,537.5 683.5,537.5 689.5,537.5 695.5,537.5 701.5,537.5 707.5,537.5 713.5,537.5 719.5,537.5 725.5,537.5 731.5,537.5 737.5,537.5 742.5,537.5 748.5,537.5 754.5,537.5 760.5,537.5 766.5,537.5 772.5,537.5 778.5,537.5 784.5,537.5 790.5,537.5 796.5,537.5 802.5,537.5 808.5,537.5 814.5,537.5 820.5,537.5 826.5,537.5 832.5,537.5 838.5,537.5 844.5,537.5 850.5,537.5 856.5,537.5 862.5,537.5 868.5,537.5 874.5,537.5 880.5,537.5 886.5,537.5 892.5,537.5 898.5,537.5 904.5,537.5 910.5,537.5 916.5,537.5 922.5,537.5 928.5,537.5 934.5,537.5 939.5,537.5 945.5,537.5 951.5,537.5 957.5,537.5 963.5,537.5 969.5,537.5 975.5,537.5 975.5,537.5"/>
<polyline fill="none" stroke="#fdd835" stroke-width="1" stroke-linejoin="round" points="10.5,586.1 14.1,584.5 20.1,582.5 26.1,580.9 32.1,576.3 38.1,571.5 44.1,567.4 50.1,564.2 56.1,560.9 62.1,556.9 68.1,553.3 74.1,553.9 80.1,555.2 86.1,556.5 92.1,558.2 98.1,560.6 104.1,563.0 110.1,565.0 116.1,567.4 122.1,570.2 128.1,573.9 134.1,576.8 140.1,579.6 145.1,582.4 151.1,584.5 157.1,584.5 163.1,584.1 169.1,583.5 175.1,583.3 181.1,583.3 187.1,583.6 193.1,584.4 199.1,585.7 205.1,587.2 211.1,587.3 217.1,586.4 223.1,585.2 229.1,583.9 235.1,585.2 241.1,585.7 247.1,586.9 253.1,588.2 259.1,589.6 265.1,590.9 271.1,591.7 277.1,593.0 283.1,594.7 289.1,595.3 295.1,597.4 301.1,601.0 307.1,605.0 313.1,608.5 319.1,609.6 325.1,609.6 331.1,608.8 337.1,608.0 342.1,606.5 348.1,604.7 354.1,603.6 360.1,601.0 366.1,599.5 372.1,599.4 378.1,599.0 384.1,598.2 390.1,596.9 396.1,595.8 402.1,596.1 408.1,596.3 414.1,596.6 420.1,595.3 426.1,594.7 432.1,595.0 438.1,595.8 444.1,597.4 450.1,596.6 456.1,595.0 462.1,592.2 468.1,589.8 474.1,589.6 480.1,590.4 486.1,590.9 492.1,592.2 498.1,594.2 504.1,595.5 510.1,596.3 516.1,596.5 522.1,596.6 528.1,599.0 534.1,601.5 540.1,605.2 545.1,608.8 551.1,612.8 557.1,615.3 563.1,617.4 569.1,618.5 575.1,616.9 581.1,614.1 587.1,612.4 593.1,610.7 599.1,610.4 605.1,609.1 611.1,606.3 617.1,603.6 623.1,601.0 629.1,598.7 635.1,596.3 641.1,593.8 647.1,591.4 653.1,589.8 659.1,589.3 665.1,591.4 671.1,593.4 677.1,594.5 683.1,594.5 689.1,593.7 695.1,594.7 701.1,596.1 707.1,597.4 713.1,597.9 719.1,598.2 725.1,598.2 731.1,598.6 737.1,598.6 742.1,599.5 748.1,598.2 754.1,596.6 760.1,595.8 766.1,596.1 772.1,597.1 778.1,597.1 784.1,596.9 790.1,597.4 796.1,598.7 802.1,600.2 808.1,601.0 814.1,602.0 820.1,602.6 826.1,602.3 832.1,601.8 838.1,602.0 844.1,603.4 850.1,603.2 856.1,602.3 862.1,602.0 868.1,601.5 874.1,599.9 880.1,598.2 886.1,596.6 892.1,595.0 898.1,592.5 904.1,589.8 910.1,587.2 916.1,585.2 922.1,584.4 928.1,583.1 934.1,582.0 939.1,580.4 945.1,578.7 951.1,576.8 957.1,575.2 963.1,572.2 969.1,568.5 975.1,564.9"/>
<polyline fill="none" stroke="#7e57c2" stroke-width="1" stroke-linejoin="round" points="10.5,570.2 14.1,561.7 20.1,557.2 26.1,565.0 32.1,541.4 38.1,537.7 44.1,521.1 50.1,548.7 56.1,534.1 62.1,539.8 68.1,536.5 74.1,582.8 80.1,594.2 86.1,594.7 92.1,593.4 98.1,593.7 104.1,594.2 110.1,589.8 116.1,577.6 122.1,580.1 128.1,575.0 134.1,573.4 140.1,572.6 145.1,584.5 151.1,571.8 157.1,586.9 163.1,588.2 169.1,588.6 175.1,590.6 181.1,595.8 187.1,598.7 193.1,598.6 199.1,590.6 205.1,601.0 211.1,580.4 217.1,563.0 223.1,556.0 229.1,566.1 235.1,586.0 241.1,594.2 247.1,602.6 253.1,609.1 259.1,612.4 265.1,615.6 271.1,608.3 277.1,614.8 283.1,617.7 289.1,604.2 295.1,610.4 301.1,614.8 307.1,619.7 313.1,608.5 319.1,601.0 325.1,597.1 331.1,586.4 337.1,601.0 342.1,595.0 348.1,589.4 354.1,592.5 360.1,575.5 366.1,595.0 372.1,599.9 378.1,611.2 384.1,605.5 390.1,601.0 396.1,590.6 402.1,605.0 408.1,600.3 414.1,592.5 420.1,579.2 426.1,586.0 432.1,592.5 438.1,602.6 444.1,602.6 450.1,586.0 456.1,574.7 462.1,570.3 468.1,570.6 474.1,595.0 480.1,602.3 486.1,609.3 492.1,618.5 498.1,618.5 504.1,603.9 510.1,599.7 516.1,596.4 522.1,605.5 528.1,632.7 534.1,616.1 540.1,622.9 545.1,620.6 551.1,630.2 557.1,631.5 563.1,633.6 569.1,623.4 575.1,599.0 581.1,577.1 587.1,580.0 593.1,579.1 599.1,593.4 605.1,591.4 611.1,592.2 617.1,585.2 623.1,583.3 629.1,591.2 635.1,600.2 641.1,601.5 647.1,597.1 653.1,593.4 659.1,579.5 665.1,610.4 671.1,608.5 677.1,590.9 683.1,593.4 689.1,583.3 695.1,596.6 701.1,603.9 707.1,611.2 713.1,599.4 719.1,606.7 725.1,601.2 731.1,602.0 737.1,588.2 742.1,599.0 748.1,591.7 754.1,584.4 760.1,579.2 766.1,596.3 772.1,601.0 778.1,593.4 784.1,604.7 790.1,609.6 796.1,618.5 802.1,631.5 808.1,607.2 814.1,615.6 820.1,607.2 826.1,590.9 832.1,584.9 838.1,586.0 844.1,601.5 850.1,591.1 856.1,589.7 862.1,595.5 868.1,596.6 874.1,583.6 880.1,600.2 886.1,605.5 892.1,582.0 898.1,577.1 904.1,566.5 910.1,556.3 916.1,557.3 922.1,580.8 928.1,580.0 934.1,576.6 939.1,565.7 945.1,578.2 951.1,563.3 957.1,568.5 963.1,554.4 969.1,546.7 975.1,538.1"/>
</g>
<text x="17.9" y="525" font-size="12" fill="#131722" textLength="16.3" lengthAdjust="spacingAndGlyphs" stroke="#131722" stroke-width="0.22">RSI</text>
<text x="38.6" y="525" font-size="12" fill="#131722" textLength="19.1" lengthAdjust="spacingAndGlyphs" stroke="#131722" stroke-width="0.22">(14,</text>
<text x="61.4" y="525" font-size="12" fill="#131722" textLength="34.1" lengthAdjust="spacingAndGlyphs" stroke="#131722" stroke-width="0.22">close)</text>
<text x="103.4" y="525" font-size="12" fill="#7e57c2" textLength="27.4" lengthAdjust="spacingAndGlyphs" stroke="#7e57c2" stroke-width="0.22">69.43</text>
<text x="139.7" y="525" font-size="12" fill="#fdd835" textLength="27.3" lengthAdjust="spacingAndGlyphs" stroke="#fdd835" stroke-width="0.22">58.85</text>
<text x="1047.4" y="95.0" font-size="12" fill="#131722" textLength="27.6" lengthAdjust="spacingAndGlyphs" stroke="#131722" stroke-width="0.22">75.00</text>
<text x="1047.4" y="155.0" font-size="12" fill="#131722" textLength="27.6" lengthAdjust="spacingAndGlyphs" stroke="#131722" stroke-width="0.22">70.00</text>
<text x="1047.4" y="275.0" font-size="12" fill="#131722" textLength="27.6" lengthAdjust="spacingAndGlyphs" stroke="#131722" stroke-width="0.22">60.00</text>
<text x="1047.4" y="455.2" font-size="12" fill="#131722" textLength="21.3" lengthAdjust="spacingAndGlyphs" stroke="#131722" stroke-width="0.22">0.00</text>
<g clip-path="url(#sc1)">
<text x="1047.4" y="506.9" font-size="12" fill="#131722" textLength="27.4" lengthAdjust="spacingAndGlyphs" stroke="#131722" stroke-width="0.22">−2.00</text>
</g>
<text x="1047.8" y="515.9" font-size="12" fill="#131722" textLength="26.8" lengthAdjust="spacingAndGlyphs" stroke="#131722" stroke-width="0.22">80.00</text>
<text x="1047.8" y="617.3" font-size="12" fill="#131722" textLength="26.8" lengthAdjust="spacingAndGlyphs" stroke="#131722" stroke-width="0.22">40.00</text>
<text x="1047.4" y="35.4" font-size="12" fill="#131722" textLength="27.6" lengthAdjust="spacingAndGlyphs" stroke="#131722" stroke-width="0.22">80.00</text>
<path d="M1039 28h39a2 2 0 0 1 2 2v13a2 2 0 0 1 -2 2h-39z" fill="#2962ff"/>
<text x="1047.4" y="40.9" font-size="12" fill="#fff" textLength="27.6" lengthAdjust="spacingAndGlyphs" stroke="#fff" stroke-width="0.22">80.76</text>
<path d="M1039 54h39a2 2 0 0 1 2 2v13a2 2 0 0 1 -2 2h-39z" fill="#2962ff"/>
<text x="1047.4" y="66.9" font-size="12" fill="#fff" textLength="27.6" lengthAdjust="spacingAndGlyphs" stroke="#fff" stroke-width="0.22">77.41</text>
<path d="M1039 187h39a2 2 0 0 1 2 2v13a2 2 0 0 1 -2 2h-39z" fill="#2962ff"/>
<text x="1047.4" y="199.9" font-size="12" fill="#fff" textLength="27.6" lengthAdjust="spacingAndGlyphs" stroke="#fff" stroke-width="0.22">65.13</text>
<path d="M1039 235h39a2 2 0 0 1 2 2v13a2 2 0 0 1 -2 2h-39z" fill="#2962ff"/>
<text x="1047.4" y="247.9" font-size="12" fill="#fff" textLength="27.6" lengthAdjust="spacingAndGlyphs" stroke="#fff" stroke-width="0.22">62.38</text>
<path d="M1039 275h39a2 2 0 0 1 2 2v13a2 2 0 0 1 -2 2h-39z" fill="#2962ff"/>
<text x="1047.4" y="287.9" font-size="12" fill="#fff" textLength="27.6" lengthAdjust="spacingAndGlyphs" stroke="#fff" stroke-width="0.22">58.97</text>
<path d="M1039 320h39a2 2 0 0 1 2 2v13a2 2 0 0 1 -2 2h-39z" fill="#2962ff"/>
<text x="1047.4" y="332.9" font-size="12" fill="#fff" textLength="27.6" lengthAdjust="spacingAndGlyphs" stroke="#fff" stroke-width="0.22">55.19</text>
<path d="M1039 204h55a2 2 0 0 1 2 2v27a2 2 0 0 1 -2 2h-55z" fill="#26a69a"/>
<text x="1047.4" y="217.2" font-size="12" fill="#fff" textLength="27.6" lengthAdjust="spacingAndGlyphs" stroke="#fff" stroke-width="0.22">64.90</text>
<text x="1048" y="231.2" font-size="12" fill="#fff" textLength="42.6" lengthAdjust="spacingAndGlyphs" stroke="#fff" stroke-width="0.22" fill-opacity="0.8">12:09:10</text>
<path d="M1038 204h-38a2 2 0 0 0 -2 2v13a2 2 0 0 0 2 2h38z" fill="#26a69a"/>
<text x="1002.6" y="217" font-size="12" fill="#fff" textLength="31.2" lengthAdjust="spacingAndGlyphs" stroke="#fff" stroke-width="0.22">USOIL</text>
<path d="M1039 394h33a2 2 0 0 1 2 2v13a2 2 0 0 1 -2 2h-33z" fill="#2962ff"/>
<text x="1048" y="406.9" font-size="12" fill="#fff" textLength="21.2" lengthAdjust="spacingAndGlyphs" stroke="#fff" stroke-width="0.22">1.28</text>
<path d="M1039 411h33a2 2 0 0 1 2 2v13a2 2 0 0 1 -2 2h-33z" fill="#ff6d00"/>
<text x="1047.6" y="423.9" font-size="12" fill="#fff" textLength="21.6" lengthAdjust="spacingAndGlyphs" stroke="#fff" stroke-width="0.22">0.74</text>
<path d="M1039 428h33a2 2 0 0 1 2 2v13a2 2 0 0 1 -2 2h-33z" fill="#26a69a"/>
<text x="1047.6" y="440.9" font-size="12" fill="#fff" textLength="21.6" lengthAdjust="spacingAndGlyphs" stroke="#fff" stroke-width="0.22">0.54</text>
<path d="M1039 530h39a2 2 0 0 1 2 2v13a2 2 0 0 1 -2 2h-39z" fill="#7e57c2"/>
<text x="1047.4" y="542.9" font-size="12" fill="#fff" textLength="27.6" lengthAdjust="spacingAndGlyphs" stroke="#fff" stroke-width="0.22">69.43</text>
<path d="M1039 557h39a2 2 0 0 1 2 2v13a2 2 0 0 1 -2 2h-39z" fill="#fdd835"/>
<text x="1047.4" y="569.9" font-size="12" fill="#131722" textLength="27.6" lengthAdjust="spacingAndGlyphs" stroke="#131722" stroke-width="0.22">58.85</text>
<text x="110" y="669.2" font-size="12" fill="#131722" text-anchor="middle" stroke="#131722" stroke-width="0.22">Jul</text>
<text x="235" y="669.2" font-size="12" fill="#131722" text-anchor="middle" stroke="#131722" stroke-width="0.22">Aug</text>
<text x="360" y="669.2" font-size="12" fill="#131722" text-anchor="middle" stroke="#131722" stroke-width="0.22">Sep</text>
<text x="486.5" y="669.2" font-size="12" fill="#131722" text-anchor="middle" stroke="#131722" stroke-width="0.22">Oct</text>
<text x="623.5" y="669.2" font-size="12" fill="#131722" text-anchor="middle" stroke="#131722" stroke-width="0.22">Nov</text>
<text x="737.5" y="669.2" font-size="12" fill="#131722" text-anchor="middle" stroke="#131722" stroke-width="0.22">Dec</text>
<text x="987.5" y="669.2" font-size="12" fill="#131722" text-anchor="middle" stroke="#131722" stroke-width="0.22">Feb</text>
<text x="868.5" y="669.2" font-size="12" fill="#131722" font-weight="bold" text-anchor="middle" stroke="#131722" stroke-width="0.22">2026</text>
<g fill="#111111"><path d="M12 701h12v15h-6v-9h-6z"/><circle cx="29.05" cy="704" r="3"/><path d="M35.5 701h6.6l-6 15h-7z"/></g>
<text x="49" y="715.8" font-size="20.5" fill="#111111" textLength="120.7" lengthAdjust="spacingAndGlyphs" font-weight="bold">TradingView</text>
</svg>
</body></html>
